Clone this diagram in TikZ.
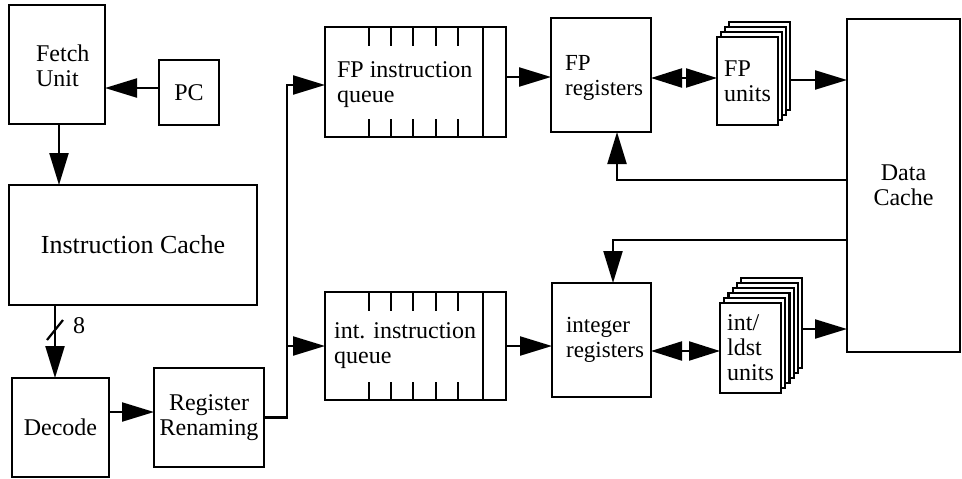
\documentclass[tikz,border=0pt]{standalone}
\usepackage{fontspec}
\setmainfont{Liberation Serif}
\usetikzlibrary{arrows.meta}

\begin{document}
\begin{tikzpicture}[x=1pt, y=-1pt, line width=2.2pt,
  every node/.style={font=\fontsize{24}{25}\selectfont},
  box/.style={draw, inner sep=0pt, outer sep=0pt, align=left},
  page/.style={draw, fill=white, inner sep=0pt, outer sep=0pt,
               minimum width=61pt, align=left},
  txt/.style={inner sep=0pt, align=left},
  arr/.style={-{Triangle[length=32pt, width=19pt]}},
  dbl/.style={{Triangle[length=31pt, width=19pt]}-{Triangle[length=31pt, width=19pt]}},
  tick/.style={line width=1.7pt}]

\useasboundingbox (0,0) rectangle (962,479);

% front end
\node[box, minimum width=96pt, minimum height=119pt] (fetch) at (57,64.5) {};
\node[txt, anchor=west] (fetcht) at (35,66) {Fetch\\Unit};
\node[box, minimum width=60pt, minimum height=65pt] (pc) at (189,92.5) {PC};
\node[box, minimum width=248pt, minimum height=120pt, font=\fontsize{26}{27}\selectfont] (icache) at (133,245) {Instruction Cache};
\node[box, minimum width=97pt, minimum height=99pt] (decode) at (60.5,427.5) {Decode};
\node[box, minimum width=110pt, minimum height=99pt, align=center] (rename) at (209,417.5) {Register\\Renaming};

% instruction queues
\node[box, minimum width=181pt, minimum height=110pt] (fpq) at (415.5,82) {};
\node[box, minimum width=181pt, minimum height=108pt] (intq) at (415.5,346) {};
\node[txt, anchor=west] (fpqt) at (336,85) {FP instruction\\queue};
\node[txt, anchor=west] (intqt) at (333,346) {int. instruction\\queue};
\foreach \q in {fpq,intq}{
  \foreach \x in {369,391,413,436,458}{
    \draw[tick] (\q.north -| \x,0) -- ++(0,19);
    \draw[tick] (\q.south -| \x,0) -- ++(0,-18);
  }
  \draw[tick] (\q.north -| 483,0) -- (\q.south -| 483,0);
}

% register files
\node[box, minimum width=100pt, minimum height=114pt] (fpreg) at (601,75) {};
\node[txt, anchor=west, font=\fontsize{23}{25}\selectfont] (fpregt) at (564,78) {FP\\registers};
\node[box, minimum width=99pt, minimum height=114pt] (intreg) at (601.5,340) {};
\node[txt, anchor=west, font=\fontsize{23}{25}\selectfont] (intregt) at (565,340) {integer\\registers};

% stacked functional units
\foreach \k in {3,2,1}
  \node[page, minimum height=88pt] (fpu\k) at (747.5+\k*4, 81-\k*5) {};
\node[page, minimum height=88pt] (fpu) at (747.5,81) {FP\\units};
\foreach \k in {5,4,3,2,1}
  \node[page, minimum height=90pt] (intu\k) at (750.5+\k*4.2, 348-\k*5) {};
\node[page, minimum height=90pt] (intu) at (750.5,348) {int/\\ldst\\units};

% data cache
\node[box, minimum width=113pt, minimum height=333pt, align=center] (dcache) at (903.5,185.5) {Data\\Cache};

% connectors
\draw[arr] ([yshift=4.5pt]pc.west) -- ([yshift=4.5pt]pc.west -| fetch.east);
\draw[arr] ([xshift=2pt]fetch.south) -- ([xshift=2pt]fetch.south |- icache.north);
\draw[arr] ([xshift=-5.5pt]decode.north |- icache.south) -- ([xshift=-5.5pt]decode.north);
\coordinate (busmark) at (55,330);
\draw ([shift={(-8,10)}]busmark) -- ([shift={(8,-10)}]busmark);
\node[txt] (buswidth) at (79,326) {8};
\draw[arr] ([yshift=15.5pt]decode.east) -- ([yshift=15.5pt]decode.east -| rename.west);

\coordinate (jt) at (287,85);
\coordinate (jn) at (287,346);
\draw[arr] (rename.east) -| (jt) -- (jt -| fpq.west);
\draw[arr] (jn) -- (jn -| intq.west);

\draw[arr] ([yshift=5pt]fpq.east) -- ([yshift=5pt]fpq.east -| fpreg.west);
\draw[arr] (intq.east) -- (intq.east -| intreg.west);

\draw[dbl] ([yshift=-3pt]fpreg.east) -- ([yshift=-3pt]fpreg.east -| fpu.west);
\draw[dbl] ([yshift=-11pt]intreg.east) -- ([yshift=-11pt]intreg.east -| intu.west);

\draw[arr] ([yshift=1pt]fpu.east -| fpu3.east) -- ([yshift=1pt]fpu.east -| dcache.west);
\draw[arr] ([yshift=19pt]intu.east -| intu5.east) -- ([yshift=19pt]intu.east -| dcache.west);

\coordinate (fbk) at (617,180);
\coordinate (ibk) at (613,240);
\draw[arr] (fbk -| dcache.west) -- (fbk) -- (fbk |- fpreg.south);
\draw[arr] (ibk -| dcache.west) -- (ibk) -- (ibk |- intreg.north);

\end{tikzpicture}
\end{document}
